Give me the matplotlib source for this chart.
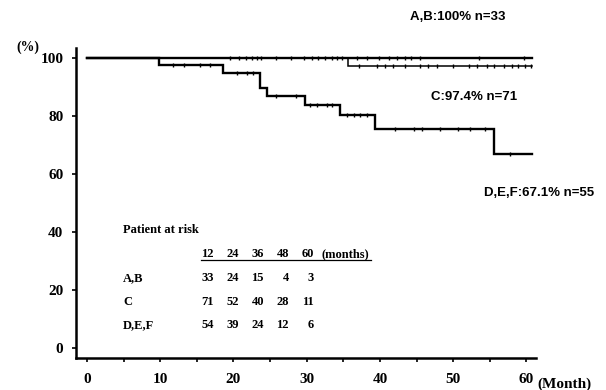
import numpy as np
import matplotlib
matplotlib.use('Agg')
import matplotlib.pyplot as plt
from matplotlib.lines import Line2D

# 생존곡선 데이터 (계단형)
ab_t = [0, 60.8]
ab_s = [100, 100]
c_t = [0, 35.6, 60.8]
c_s = [100, 97.4, 97.4]
def_t = [0, 9.8, 18.6, 23.6, 24.6, 29.8, 34.6, 39.3, 55.5, 60.8]
def_s = [100, 97.6, 95.1, 89.7, 87.1, 83.9, 80.5, 75.7, 67.1, 67.1]

# censor 표시 (월)
ab_cens = [19.5, 20.7, 21.7, 22.5, 23.2, 23.8, 25.8, 27.8, 29.6, 30.7, 31.6,
           32.5, 33.4, 34.2, 34.8, 36.8, 38.2, 39.8, 41.2, 42.3, 43.4, 44.3,
           45.5, 53.5, 59.6]
c_cens = [37.1, 39.6, 40.7, 41.8, 43.4, 45.5, 46.6, 47.8, 50.0, 52.1, 53.2,
          54.6, 55.5, 56.9, 58.0, 58.9, 59.8, 60.6]
def_cens = [11.7, 13.2, 15.4, 16.8, 20.5, 21.8, 22.7, 25.8, 28.6, 30.5, 31.4,
            32.7, 33.4, 35.5, 36.4, 37.3, 38.2, 42.1, 44.6, 45.7, 48.2, 50.7,
            52.3, 54.4, 57.8]

# 위험군 표
risk_months = ['12', '24', '36', '48', '60']
risk_groups = ['A,B', 'C', 'D,E,F']
risk_counts = [[33, 24, 15, 4, 3],
               [71, 52, 40, 28, 11],
               [54, 39, 24, 12, 6]]

labels = ['A,B:100% n=33', 'C:97.4% n=71', 'D,E,F:67.1% n=55']

W, H = 606, 390


def px(x, y):
    return x / W, 1 - y / H


def step_val(t, s, x):
    i = np.searchsorted(t, x, side='right') - 1
    return np.array(s)[i]


fig = plt.figure(figsize=(W / 100, H / 100), dpi=100)
ax = fig.add_axes([76 / W, 1 - 358 / H, 460 / W, 310 / H])

serif = 'Liberation Serif'
sans = 'Liberation Sans'

for t, s, cens, lw in [(ab_t, ab_s, ab_cens, 1.7),
                       (c_t, c_s, c_cens, 1.1),
                       (def_t, def_s, def_cens, 1.7)]:
    ax.step(t, s, where='post', color='black', lw=lw, solid_joinstyle='miter')
    ax.plot(cens, step_val(t, s, cens), ls='none', marker='|',
            ms=3.5, mew=1.0, color='black')

ax.set_xlim(-1.5, 61.3)
ax.set_ylim(-3.6, 103.6)
ax.set_xticks(range(0, 61, 10))
ax.set_xticks(range(0, 61, 5), minor=True)
ax.set_yticks(range(0, 101, 20))

for sp in ['top', 'right']:
    ax.spines[sp].set_visible(False)
for sp in ['left', 'bottom']:
    ax.spines[sp].set_linewidth(1.8)

ax.tick_params(axis='y', length=3, width=1.2, pad=6)
ax.tick_params(axis='x', which='both', length=3, width=1.2, pad=8)
for lab in ax.get_xticklabels() + ax.get_yticklabels():
    lab.set_fontfamily(serif)
    lab.set_fontweight('bold')
    lab.set_fontsize(11)

fig.text(*px(28, 47), '(%)', ha='center', va='center', fontfamily=serif,
         fontweight='bold', fontsize=10)
fig.text(*px(537, 384), '(Month)', ha='left', va='center', fontfamily=serif,
         fontweight='bold', fontsize=11)

# 곡선 라벨
fig.text(*px(458, 17), labels[0], ha='center', va='center', fontfamily=sans,
         fontweight='bold', fontsize=9.5)
fig.text(*px(474, 97), labels[1], ha='center', va='center', fontfamily=sans,
         fontweight='bold', fontsize=9.5)
fig.text(*px(539, 193), labels[2], ha='center', va='center', fontfamily=sans,
         fontweight='bold', fontsize=9.5)

# Patient at risk 표
tfs = 9
fig.text(*px(123, 230), 'Patient at risk', ha='left', va='center',
         fontfamily=serif, fontweight='bold', fontsize=tfs)
col_x = [214, 239, 264, 289, 314]
for cx, m in zip(col_x, risk_months):
    fig.text(*px(cx, 254), m, ha='right', va='center', fontfamily=serif,
             fontweight='bold', fontsize=tfs)
fig.text(*px(322, 254), '(months)', ha='left', va='center', fontfamily=serif,
         fontweight='bold', fontsize=tfs)
fig.add_artist(Line2D([201 / W, 371 / W], [1 - 260 / H, 1 - 260 / H],
                      color='black', lw=0.9))
row_y = [278, 302, 325]
for ry, g, counts in zip(row_y, risk_groups, risk_counts):
    fig.text(*px(123, ry), g, ha='left', va='center', fontfamily=serif,
             fontweight='bold', fontsize=tfs)
    for cx, n in zip(col_x, counts):
        fig.text(*px(cx, ry), str(n), ha='right', va='center',
                 fontfamily=serif, fontweight='bold', fontsize=tfs)

fig.savefig('out.png', dpi=100)
